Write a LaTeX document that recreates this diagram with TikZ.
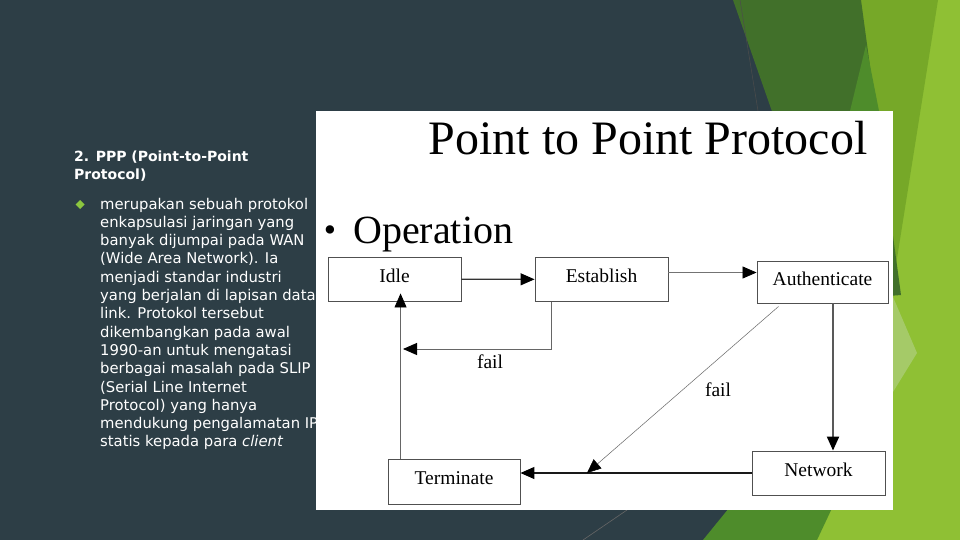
\documentclass[tikz,border=0pt]{standalone}
\usepackage{fontspec}
\setmainfont{Liberation Serif}
\newfontfamily\diapo{DejaVu Sans}
\usetikzlibrary{arrows.meta}

\definecolor{ardoise}{HTML}{2D3E46}
\definecolor{vertfonce}{HTML}{41702A}
\definecolor{vertmoyen}{HTML}{76A828}
\definecolor{vertclair}{HTML}{8FC034}
\definecolor{vertbas}{HTML}{4E8C2B}
\definecolor{vertpale}{HTML}{A5CA68}
\definecolor{puce}{HTML}{8CC63F}
\definecolor{bord}{HTML}{505050}

\tikzset{
  etat/.style={draw=bord, line width=0.9pt, minimum width=133pt, minimum height=44pt, inner sep=0pt, text height=13pt, text depth=7pt, font=\fontsize{19.5}{20}\selectfont},
  fleche/.style={-{Triangle[length=14pt,width=12pt,color=black]}},
  texte/.style={text=white, inner sep=0pt, anchor=base west},
}

\begin{document}
\begin{tikzpicture}[x=1pt,y=-1pt]
		\useasboundingbox (0,0) rectangle (960,540);
		%Fond
		\fill[ardoise] (0,0) rectangle (960,540);
		\fill[vertclair] (858,0) -- (960,0) -- (960,540) -- (800,540) -- cycle;
		\fill[vertmoyen] (858,0) -- (938,0) -- (892,290) -- cycle;
		\fill[vertfonce] (733,0) -- (861,0) -- (901,295) -- (838,300) -- cycle;
		\fill[vertbas] (850,111) -- (866,45) -- (879,111) -- cycle;
		\fill[vertpale] (893,297) -- (917,353) -- (893,392) -- cycle;
		\fill[vertbas] (703,540) -- (760,470) -- (850,470) -- (817,540) -- cycle;
		\draw[black!70,line width=0.5pt] (740,0) -- (758,111);
		\draw[black!60,line width=0.6pt] (583,540) -- (627,510);

		% Texte
		\node[texte, font=\diapo\bfseries\fontsize{14}{18}\selectfont] (titre1) at (74,161) {2. PPP (Point-to-Point};
		\node[texte, font=\diapo\bfseries\fontsize{14}{18}\selectfont] (titre2) at (74,179) {Protocol)};
		\fill[puce] (80,200) -- (84.5,204.5) -- (80,209) -- (75.5,204.5) -- cycle;
		\foreach \ligne [count=\i from 0] in {{merupakan sebuah protokol},{enkapsulasi jaringan yang},{banyak dijumpai pada WAN},{(Wide Area Network). Ia},{menjadi standar industri},{yang berjalan di lapisan data},{link. Protokol tersebut},{dikembangkan pada awal},{1990-an untuk mengatasi},{berbagai masalah pada SLIP},{(Serial Line Internet},{Protocol) yang hanya},{mendukung pengalamatan IP},{statis kepada para \textit{client}}}{
			\node[texte, font=\diapo\fontsize{14.8}{18}\selectfont] (ligne\i) at (100,{209+18.3*\i}) {\ligne};
			}

		% Panneau
		\fill[white] (316,111) rectangle (893,510);
		\node[anchor=base, font=\fontsize{48}{50}\selectfont] (titre) at (648,155) {Point to Point Protocol};
		\node[anchor=base, inner sep=0pt] (puce2) at (330,241) {\fontsize{35}{35}\selectfont\textbullet};
		\node[anchor=base west, inner sep=0pt, font=\fontsize{40}{42}\selectfont] (operation) at (353,243) {Operation};

		% Etats
		\node[etat] (idle) at (394.5,279) {Idle};
		\node[etat] (establish) at (601.5,279.5) {Establish};
		\node[etat, minimum width=131pt, minimum height=42pt] (authenticate) at (822.5,282) {Authenticate};
		\node[etat] (network) at (818.5,473) {Network};
		\node[etat, minimum width=132pt, minimum height=45pt] (terminate) at (454,481.5) {Terminate};
		\coordinate (retour) at (403,349);
		\coordinate (chute) at (587,473);

		% Fleches
		\draw[fleche, line width=1.2pt, black!80] (idle) -- (establish);
		\draw[fleche, line width=0.8pt, black!55] ([yshift=7pt]establish.east) -- ([yshift=7pt]establish.east -| authenticate.west);
		\draw[fleche, line width=1pt, black!60] ([xshift=17pt]establish.south west) |- (retour);
		\draw[fleche, line width=0.8pt, black!60] ([xshift=13pt]terminate.north west) -- ([xshift=13pt,yshift=8pt]terminate.north west |- idle.south);
		\draw[fleche, line width=2pt, black!65] ([xshift=10.5pt]authenticate.south) -- ([xshift=10.5pt]authenticate.south |- network.north);
		\draw[fleche, line width=1.3pt, black!90] (network.west) -- (network.west -| terminate.east);
		\draw[fleche, line width=0.5pt, black!60] ([xshift=22pt,yshift=-3pt]authenticate.south west) -- (chute);
		\node[font=\fontsize{19.5}{20}\selectfont] (fail1) at (490,362) {fail};
		\node[font=\fontsize{19.5}{20}\selectfont] (fail2) at (718,390) {fail};
		\end{tikzpicture}
\end{document}
